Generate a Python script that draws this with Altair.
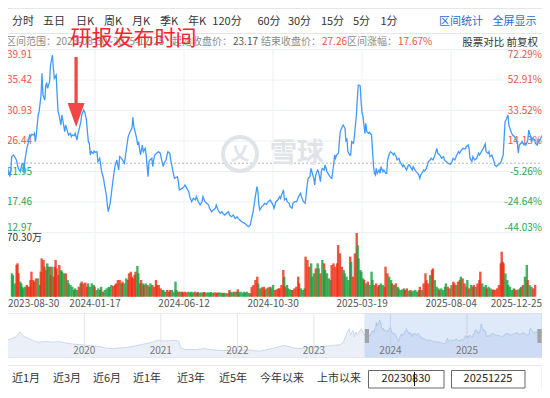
import altair as alt
import numpy as np
import pandas as pd

FONT = "Noto Sans CJK SC"
OFF = 8  # page margin: reference pixel -> chart pixel

# ---------------- data ----------------
START_DATE, END_DATE = "2023-08-30", "2025-12-25"
START_PRICE, END_PRICE, CHANGE = 23.17, 27.26, "17.67%"
N_LAST = 566  # last trading-day index

# (trading-day index, close price)
PRICE = [(0,23.17),(1,22.91),(4,21.19),(5,21.92),(6,24.14),(8,24.38),(11,23.65),(12,23.00),(13,22.41),(15,21.92),(17,23.16),(18,23.16),(19,21.68),(20,23.65),(22,25.36),(23,25.85),(25,27.32),(26,27.08),(27,27.43),(29,27.32),(30,27.57),(31,26.34),(32,27.32),(34,30.27),(35,30.76),(37,33.21),(38,36.40),(39,33.21),(41,32.48),(42,34.68),(43,34.93),(44,34.19),(46,35.17),(47,37.63),(49,39.10),(50,37.14),(51,35.66),(53,36.15),(54,33.21),(55,30.76),(56,30.27),(58,28.79),(59,30.27),(60,29.53),(62,27.81),(63,28.79),(65,27.81),(66,27.32),(68,27.57),(69,27.08),(70,27.32),(72,27.23),(73,27.57),(75,26.59),(76,27.57),(77,28.06),(79,29.28),(80,30.27),(82,31.01),(83,30.76),(85,29.53),(86,27.81),(87,26.34),(88,26.10),(89,24.38),(90,24.87),(92,24.63),(93,24.97),(94,24.77),(96,24.87),(97,23.40),(99,23.89),(100,22.91),(101,21.92),(103,20.94),(104,19.96),(106,18.49),(107,17.02),(108,16.04),
(110,17.27),(113,20.70),(115,22.66),(117,23.64),(119,22.17),(120,24.14),(122,23.89),(125,23.15),(127,25.12),(129,27.08),(131,27.81),(133,28.30),(134,29.92),(135,28.55),
(138,26.83),(139,25.85),(140,26.34),(141,25.36),(142,24.38),(144,25.85),(145,24.87),(147,25.36),(148,24.38),(150,21.19),(151,23.40),(152,23.65),(154,23.89),(155,22.66),(156,23.65),(157,24.38),(159,24.63),(161,24.87),(163,24.63),(164,23.89),(166,22.66),(167,23.16),(169,23.65),(170,24.38),(171,24.87),(173,24.63),(174,23.65),(176,22.17),(177,21.43),(178,20.94),(181,21.19),(182,20.45),(183,19.23),(186,19.47),(188,19.72),(189,19.96),(191,19.47),(193,18.98),(194,18.25),(196,17.51),(198,18.00),(200,17.76),(201,18.25),(203,17.51),(205,17.02),(207,17.51),(208,18.25),(210,17.51),(212,17.27),(214,17.02),(215,16.53),(217,16.04),(219,16.29),(221,16.53),(222,17.02),(224,16.29),(226,15.80),(228,16.04),(229,15.80),(231,15.54),(233,15.80),(235,16.04),(236,15.54),(238,15.30),(240,15.54),(242,15.05),(244,15.30),(245,15.05),(247,14.81),(249,14.56),(252,14.32),(256,13.83),(258,14.07),(259,14.81),(261,16.04),(263,18.00),(265,19.72),(266,18.98),(267,17.02),(268,16.29),(270,16.78),(272,17.02),(273,17.27),(275,17.12),(277,17.51),(279,17.76),(280,17.51),(282,17.02),(283,16.53),
(285,17.51),(287,17.76),(289,18.25),(290,18.00),(291,18.49),(293,19.23),(294,17.76),(296,18.00),(297,17.51),(299,17.27),(300,16.78),(302,16.53),(303,17.27),(305,17.51),(307,17.51),(309,18.25),(311,18.74),(312,18.25),(314,17.51),(316,17.27),(318,19.96),(319,20.94),(321,21.19),(322,22.41),(323,21.92),(325,20.94),(326,19.96),(327,21.43),(329,22.17),(330,21.92),(332,20.45),(333,21.92),(334,22.41),(336,22.17),(337,22.91),(339,21.92),(340,21.68),(342,21.19),(344,20.94),(346,22.91),(347,24.38),(348,23.89),(349,24.38),(351,24.63),(352,26.34),(353,27.81),(355,28.55),(356,28.79),(358,28.30),(359,26.34),(360,26.83),(361,24.87),(363,24.38),(364,24.38),(365,26.34),(367,26.10),(368,27.32),(370,30.27),(371,32.72),(372,34.68),(374,34.59),(375,32.23),(376,30.52),(377,30.03),(378,28.79),(379,27.57),(380,29.04),(381,27.81),(383,27.57),(384,27.72),(386,27.32),(388,22.91),(389,21.68),(390,21.43),(391,22.41),(392,21.68),(394,22.17),(395,21.68),(396,22.66),(398,21.92),(399,22.17),(401,21.68),(402,21.68),(403,23.65),(405,24.63),(406,24.87),(408,24.63),(409,24.38),(410,24.63),(412,24.14),(413,23.65),(415,23.89),(416,23.40),(418,22.91),(419,22.66),(420,22.91),(422,22.41),(423,22.17),(425,22.91),
(426,22.91),(428,22.41),(429,22.17),(430,22.66),(432,22.17),(433,21.92),(435,21.68),(436,21.43),(437,20.94),(438,21.43),(440,21.92),(441,22.17),(442,22.02),(444,22.41),(446,23.40),(448,23.65),(449,23.89),(451,23.65),(453,24.38),(455,25.36),(456,24.63),(458,24.38),(460,23.89),(462,24.14),(463,23.65),(465,23.40),(467,23.16),(469,23.00),(471,23.40),(472,23.89),(474,23.65),(476,24.38),(478,24.87),(479,24.63),(481,25.12),(483,25.36),(485,25.26),(486,25.61),(488,25.85),(489,25.36),(490,23.89),(492,23.40),(493,24.14),(495,23.65),(497,23.89),(499,24.63),(500,24.38),(502,24.87),(504,25.36),(506,26.00),(507,24.87),(509,24.63),(510,24.87),(511,24.14),(513,24.38),(515,23.65),(516,22.91),(518,22.66),(520,23.00),(522,23.16),(523,23.49),(525,24.38),(526,26.83),(527,29.28),(528,29.53),(530,30.27),(531,28.79),(532,28.30),(534,27.57),(535,27.32),(537,27.08),(538,26.83),(540,26.10),(541,24.63),(542,25.85),(544,26.10),(545,26.34),(547,25.85),(548,26.10),(549,25.85),(551,26.59),(552,28.06),(554,27.08),(555,26.34),(556,26.83),(558,26.59),(559,26.10),(561,25.85),(562,26.59),(563,26.34),(566,27.26)]

# (trading-day index, volume in 万)
VOLUME = [(1,25.8),(2,23.9),(4,14.7),(6,35.0),(7,36.8),(8,25.8),(10,16.6),(11,14.7),(12,11.0),(13,9.2),(15,11.0),(17,12.9),(18,11.0),(20,11.0),(21,18.4),(22,27.6),(24,18.4),(25,16.6),(27,20.2),(29,20.2),(31,12.9),(32,27.6),(33,42.3),(35,40.5),(36,33.1),(38,29.4),(39,36.8),(40,33.1),(42,33.1),(43,23.9),(44,33.1),(46,22.1),(47,33.1),(48,40.5),(49,31.3),(51,23.9),(52,35.0),(54,29.4),(55,27.6),(57,25.8),(59,25.8),(61,18.4),(62,14.7),(64,12.9),(66,11.0),(68,7.4),(69,9.2),(71,7.4),(73,11.0),(75,14.7),(76,16.6),(78,14.7),(80,15.5),(82,11.0),(83,14.7),(85,11.0),(87,14.7),(89,12.9),(90,11.0),(92,7.4),(94,9.2),(96,7.4),(97,11.0),(99,5.5),(101,7.4),(103,9.2),(105,10.3),(106,11.0),(108,12.9),(110,11.8),(112,12.9),(113,14.7),(115,18.4),(117,18.4),(119,14.7),(120,16.6),(122,14.7),(124,20.2),(126,18.4),(127,25.8),(129,27.6),(130,22.1),(131,20.2),(133,23.9),(134,27.6),(136,33.9),(137,25.8),(139,14.7),(140,18.4),(142,14.7),(143,12.9),(145,14.7),(147,12.9),(149,11.0),(150,14.7),(152,12.9),(154,11.0),(156,18.4),(157,12.9),(159,12.9),(161,9.2),(163,7.4),(164,7.4),(166,5.5),(168,7.4),(170,5.5),(171,7.4),(173,7.4),(175,5.5),(177,16.6),(178,7.4),(180,5.5),(182,5.5),(184,5.5),(185,4.8),(187,5.5),(189,4.8),(191,5.5),(193,4.4),(194,5.5),(196,4.8),(198,5.5),(200,4.4),(201,5.2),(203,4.4),(205,4.8),(207,4.4),(208,5.2),(210,4.4),(212,4.8),(214,4.4),(215,5.2),(217,4.4),(219,4.8),(221,4.4),(222,4.4),(224,4.8),(226,4.4),(228,4.0),(229,4.4),(231,4.0),(233,3.7),(235,7.4),(236,5.5),(238,4.8),(240,5.5),(242,5.5),(244,8.1),(245,5.2),(247,5.5),(249,4.4),(251,5.5),(252,4.4),(254,5.5),(256,4.0),(258,3.7),(259,11.0),(261,12.9),(263,18.4),(265,22.1),(266,14.7),(268,9.2),(270,10.3),(272,11.0),(273,8.1),(275,9.2),(277,10.3),(279,11.0),(280,9.2),(282,12.9),
(284,7.4),(286,8.1),(288,9.2),(289,9.2),(291,12.9),(293,29.4),(294,22.1),(295,11.0),(297,12.9),(298,9.2),(300,8.1),(302,7.4),(303,7.4),(305,9.2),(307,11.0),(309,22.1),(310,14.7),(312,9.2),(314,7.4),(316,9.2),(317,44.2),(319,40.5),(321,33.1),(323,36.8),(324,22.1),(326,25.8),(328,31.3),(330,36.8),(331,31.3),(333,25.8),(335,40.5),(337,36.8),(338,29.4),(340,25.8),(342,20.2),(344,18.4),(345,35.0),(347,36.8),(349,33.1),(351,36.8),(352,57.0),(354,47.8),(356,33.1),(358,29.4),(359,25.8),(361,22.1),(363,18.4),(365,44.2),(366,38.6),(368,22.1),(370,47.8),(372,70.3),(373,57.0),(374,42.3),(376,29.4),(377,27.6),(379,20.2),(380,18.4),(382,14.7),(384,16.6),(386,12.9),(388,27.6),(389,18.4),(391,12.9),(393,14.7),(395,11.0),(396,12.9),(398,14.7),(400,12.9),(402,11.0),(403,33.1),(405,25.8),(407,22.1),(409,18.4),(410,14.7),(412,12.9),(414,14.7),(416,11.0),(417,9.2),(419,7.4),(421,8.1),(423,9.2),(424,7.4),(426,9.2),(428,6.6),(430,7.4),(431,5.5),(433,6.6),(435,7.4),(437,5.5),(439,7.4),(440,11.0),(442,7.4),(444,14.7),(446,25.8),(447,18.4),(449,14.7),(451,23.9),(453,29.4),(454,31.3),(456,18.4),(458,11.0),(460,9.2),(461,7.4),(463,9.2),(465,7.4),(467,11.0),(468,14.7),(470,11.0),(472,9.2),(474,12.9),(476,16.6),(477,14.7),(479,12.9),(481,16.6),(483,18.4),(484,22.1),(486,20.2),(488,14.7),(490,11.0),(491,18.4),(493,9.2),(495,12.9),(497,11.0),(498,12.9),(500,11.0),(502,14.7),(504,18.4),(505,27.6),(507,14.7),(509,11.0),(511,12.9),(512,9.2),(514,11.0),(516,9.2),(518,7.4),(519,8.1),(521,7.4),(523,9.2),(525,12.9),(527,36.8),(528,49.7),(529,38.6),(530,36.8),(532,25.8),(534,18.4),(535,12.9),(537,11.0),(539,7.4),(541,9.2),(542,8.1),(544,7.4),(546,8.1),(548,9.2),(549,11.0),(551,12.9),(553,22.1),(555,35.0),(556,18.4),(558,12.9),(560,11.0),(562,9.2),(564,12.9)]

DATE_TICK_IDX = [0, 94, 188, 282, 376, 470, 566]
DATE_TICK_LABELS = ["2023-08-30", "2024-01-17", "2024-06-12", "2024-10-30",
                    "2025-03-19", "2025-08-04", "2025-12-25"]
PRICE_TICKS = [39.91, 35.42, 30.93, 26.44, 21.95, 17.46, 12.97]
PCT_LABELS = ["72.29%", "52.91%", "33.52%", "14.13%", "-5.26%", "-24.64%", "-44.03%"]
VOL_MAX = 70.30
VOL_MAX_LABEL = "70.30万"

# long history shown in the navigator (date, price)
NAV_HISTORY = [("2018-12-27",17.9),("2019-01-15",18.9),("2019-02-10",21.3),("2019-02-28",26.4),("2019-03-07",24.7),("2019-03-21",21.3),("2019-04-09",19.6),("2019-04-27",17.9),("2019-05-12",16.2),("2019-05-30",15.6),("2019-07-02",16.2),("2019-08-04",15.6),("2019-09-06",16.2),("2019-10-09",14.5),("2019-11-14",13.5),("2019-12-17",12.9),("2020-01-11",12.2),("2020-02-02",11.8),("2020-03-10",11.2),("2020-04-12",9.5),("2020-05-15",8.8),("2020-06-17",9.5),("2020-07-20",10.1),("2020-08-22",11.2),("2020-09-27",12.9),("2020-10-30",14.5),("2020-12-02",16.2),("2020-12-17",17.9),("2021-01-04",16.9),("2021-02-06",16.9),("2021-03-11",17.6),("2021-03-29",16.2),("2021-04-06",9.5),("2021-05-01",7.8),("2021-06-21",7.8),("2021-07-24",8.8),("2021-08-26",7.8),("2021-10-16",6.8),("2021-12-06",6.8),("2022-01-23",7.4),("2022-02-28",7.4),("2022-04-16",6.1),("2022-05-23",7.8),("2022-07-09",10.1),("2022-08-11",12.2),("2022-09-16",10.1),("2022-10-19",8.8),("2022-11-21",9.5),("2022-12-24",11.2),("2023-01-26",10.1),("2023-02-28",11.2),("2023-04-02",12.2),("2023-05-08",12.9),("2023-05-23",16.2),("2023-06-10",26.4),("2023-06-18",29.8),("2023-06-25",23.0),("2023-07-06",28.1),("2023-07-13",21.3),("2023-07-20",26.4),("2023-07-28",23.0),("2023-08-15",29.8)]
NAV_YEARS = [2020, 2021, 2022, 2023, 2024, 2025]
NAV_START, NAV_END = "2018-12-24", "2025-12-25"

TABS = ["分时", "五日", "日K", "周K", "月K", "季K", "年K", "120分", "60分", "30分", "15分", "5分", "1分"]
TOOLS = ["区间统计", "全屏显示"]
RANGE_BUTTONS = ["近1月", "近3月", "近6月", "近1年", "近3年", "近5年", "今年以来", "上市以来"]
ANNOTATION = "研报发布时间"
ARROW_IDX, ARROW_TOP, ARROW_HEAD = 74, 38.8, 30.26

# ---------------- layout (reference pixels) ----------------
TAB_X = [23, 54, 85, 113, 141, 169, 197, 227, 269, 299.5, 332.5, 361.5, 389]
TOOL_X = [461, 514.5]
BUTTON_X = [26, 67, 107, 147, 191, 233, 282, 339]

RED_TXT, GREEN_TXT = "#ec5546", "#2ea44f"
RED_BAR, GREEN_BAR = "#ee2a12", "#14a03c"
GRID = "#edf0f4"


def d2y(s):
    t = pd.to_datetime(s)
    return t.year + (t.dayofyear - 1) / 365.25


X_MAIN = alt.Scale(domain=[0, N_LAST], range=[6 - OFF, 542 - OFF], nice=False, zero=False)
Y_PRICE = alt.Scale(domain=[PRICE_TICKS[-1], PRICE_TICKS[0]], range=[232.5 - OFF, 49.5 - OFF], nice=False, zero=False)
Y_VOL = alt.Scale(domain=[0, VOL_MAX], range=[296.7 - OFF, 233 - OFF], nice=False)
X_NAV = alt.Scale(domain=[d2y(NAV_START), d2y(NAV_END)], range=[6 - OFF, 542 - OFF], nice=False, zero=False)
Y_NAV = alt.Scale(domain=[0, 40], range=[357 - OFF, 319 - OFF], nice=False)


def ui_text(rows, align="left", baseline="middle", weight="normal"):
    df = pd.DataFrame(rows, columns=["t", "x", "y", "size", "color"])
    df["x"] = df["x"] - OFF
    df["y"] = df["y"] - OFF
    return alt.Chart(df).mark_text(align=align, baseline=baseline, font=FONT, fontWeight=weight).encode(
        x=alt.X("x:Q", scale=None, axis=None),
        y=alt.Y("y:Q", scale=None, axis=None),
        text="t:N",
        size=alt.Size("size:Q", scale=None, legend=None),
        color=alt.Color("color:N", scale=None, legend=None),
    )


def ui_rect(rows, **mark):
    df = pd.DataFrame(rows, columns=["x", "x2", "y", "y2"]) - OFF
    return alt.Chart(df).mark_rect(**mark).encode(
        x=alt.X("x:Q", scale=None, axis=None), x2="x2:Q",
        y=alt.Y("y:Q", scale=None, axis=None), y2="y2:Q")


layers = []

# ---- top tab bar ----
layers.append(ui_rect([(6.5, 543, 8.5, 33.5)], fill="white", stroke="#e6e6e6", strokeWidth=1))
layers.append(ui_text([(t, x, 21.5, 11, "#333333") for t, x in zip(TABS, TAB_X)], align="center"))
layers.append(ui_text([(t, x, 21.5, 11, "#2a6ed6") for t, x in zip(TOOLS, TOOL_X)], align="center"))

# ---- info line ----
layers.append(ui_text([(f"区间范围：{START_DATE}~{END_DATE}", 6, 42, 10, "#8c8c8c"),
                       (f"{START_PRICE:.2f}", 233, 42, 10, "#555555"),
                       (f"{END_PRICE:.2f}", 322, 42, 10, RED_TXT),
                       (CHANGE, 398, 42, 10, RED_TXT)]))
layers.append(ui_text([("起始收盘价：", 232, 42, 10, "#8c8c8c"),
                       ("结束收盘价：", 321, 42, 10, "#8c8c8c"),
                       ("区间涨幅：", 397, 42, 10, "#8c8c8c"),
                       ("股票对比  前复权", 538, 43, 10.5, "#333333")], align="right"))

price_df = pd.DataFrame(PRICE, columns=["idx", "price"])

# ---- grids ----
grid_df = pd.DataFrame({"price": PRICE_TICKS, "x0": 0, "x1": N_LAST})
layers.append(alt.Chart(grid_df).mark_rule(color=GRID, strokeWidth=1).encode(
    x=alt.X("x0:Q", scale=X_MAIN, axis=None), x2="x1:Q",
    y=alt.Y("price:Q", scale=Y_PRICE, axis=None)))
tick_df = pd.DataFrame({"idx": DATE_TICK_IDX, "label": DATE_TICK_LABELS})
layers.append(alt.Chart(tick_df.iloc[1:-1]).mark_rule(color=GRID, strokeWidth=1).encode(
    x=alt.X("idx:Q", scale=X_MAIN, axis=None), y=alt.value(49.5 - OFF), y2=alt.value(297 - OFF)))
base_df = pd.DataFrame({"price": [START_PRICE], "x0": [0], "x1": [N_LAST]})
layers.append(alt.Chart(base_df).mark_rule(color="#b4b4b4", strokeDash=[2, 2], strokeWidth=1).encode(
    x=alt.X("x0:Q", scale=X_MAIN, axis=None), x2="x1:Q",
    y=alt.Y("price:Q", scale=Y_PRICE, axis=None)))

# ---- watermark ----
layers.append(alt.Chart(pd.DataFrame({"a": [0]})).mark_point(
    shape="circle", size=1150, filled=False, strokeWidth=4, color="#e0e4e9", opacity=1).encode(
    x=alt.value(240 - OFF), y=alt.value(154 - OFF)))
layers.append(ui_text([("乂", 240, 154, 19, "#e0e4e9")], align="center", weight="bold"))
layers.append(ui_text([("雪球", 297, 154, 27, "#e0e4e9")], align="center", weight="bold"))

# ---- price axis labels (inside plot) ----
ax_df = pd.DataFrame({"price": PRICE_TICKS,
                      "label": [f"{p:.2f}" for p in PRICE_TICKS],
                      "pct": PCT_LABELS})
ax_df["color"] = np.where(ax_df["price"] >= START_PRICE, RED_TXT, GREEN_TXT)
ax_df["pos"] = ["top"] + ["mid"] * (len(ax_df) - 2) + ["bot"]
for field, xpos, align in [("label", 7 - OFF, "left"), ("pct", 542 - OFF, "right")]:
    for pos, bl in [("top", "top"), ("mid", "middle"), ("bot", "bottom")]:
        layers.append(alt.Chart(ax_df[ax_df["pos"] == pos]).mark_text(
            align=align, baseline=bl, font=FONT, fontSize=10).encode(
            x=alt.value(xpos), y=alt.Y("price:Q", scale=Y_PRICE, axis=None),
            text=f"{field}:N", color=alt.Color("color:N", scale=None, legend=None)))

# ---- price line ----
layers.append(alt.Chart(price_df).mark_line(color="#3f9bff", strokeWidth=1.3).encode(
    x=alt.X("idx:Q", scale=X_MAIN, axis=None),
    y=alt.Y("price:Q", scale=Y_PRICE, axis=None)))

# ---- volume (colour = price up / down versus the previous session) ----
vol_df = pd.DataFrame(VOLUME, columns=["idx", "vol"])
p_now = np.interp(vol_df["idx"], price_df["idx"], price_df["price"])
p_prev = np.interp(vol_df["idx"] - 1, price_df["idx"], price_df["price"])
vol_df["color"] = np.where(p_now >= p_prev, RED_BAR, GREEN_BAR)
layers.append(alt.Chart(vol_df).mark_bar(size=2.4, opacity=0.8).encode(
    x=alt.X("idx:Q", scale=X_MAIN, axis=None),
    y=alt.Y("vol:Q", scale=Y_VOL, axis=None),
    color=alt.Color("color:N", scale=None, legend=None)))
layers.append(ui_text([(VOL_MAX_LABEL, 7, 238, 10, "#333333")]))

# ---- date labels ----
for sub, align, dx in [(tick_df.iloc[:1], "left", 2), (tick_df.iloc[1:-1], "center", 0),
                       (tick_df.iloc[-1:], "right", 0)]:
    layers.append(alt.Chart(sub).mark_text(align=align, baseline="middle", font=FONT, fontSize=10,
                                           color="#555555", xOffset=dx).encode(
        x=alt.X("idx:Q", scale=X_MAIN, axis=None), y=alt.value(304 - OFF), text="label:N"))

# ---- navigator ----
nav_hist = pd.DataFrame(NAV_HISTORY, columns=["date", "price"])
nav_hist["yr"] = nav_hist["date"].map(d2y)
y0, y1 = d2y(START_DATE), d2y(END_DATE)
nav_main = price_df.assign(yr=y0 + price_df["idx"] / N_LAST * (y1 - y0))
nav_df = pd.concat([nav_hist[["yr", "price"]], nav_main[["yr", "price"]]], ignore_index=True)
layers.append(ui_rect([(6.5, 542, 313.5, 357.5)], fill="white", stroke="#e8e8e8", strokeWidth=1))
yr_df = pd.DataFrame({"yr": NAV_YEARS, "label": [str(y) for y in NAV_YEARS]})
layers.append(alt.Chart(yr_df).mark_rule(color="#e4e4e4", strokeWidth=1).encode(
    x=alt.X("yr:Q", scale=X_NAV, axis=None), y=alt.value(313.5 - OFF), y2=alt.value(357.5 - OFF)))
layers.append(alt.Chart(nav_df).mark_area(
    fill="#e3eaf5", line=alt.OverlayMarkDef(color="#c2cfe6", strokeWidth=0.8)).encode(
    x=alt.X("yr:Q", scale=X_NAV, axis=None), y=alt.Y("price:Q", scale=Y_NAV, axis=None)))
sel_df = pd.DataFrame({"a": [y0], "b": [y1]})
layers.append(alt.Chart(sel_df).mark_rect(fill="#3d7be0", fillOpacity=0.17).encode(
    x=alt.X("a:Q", scale=X_NAV, axis=None), x2="b:Q",
    y=alt.value(313.5 - OFF), y2=alt.value(357.5 - OFF)))
HANDLE = "M-0.3,-1L0.3,-1L0.3,1L-0.3,1Z"
for field, dx in [("a", 2.5), ("b", -2.5)]:
    layers.append(alt.Chart(sel_df).mark_point(shape=HANDLE, size=196, filled=True, color="#a3a3a3",
                                               opacity=1, xOffset=dx).encode(
        x=alt.X(f"{field}:Q", scale=X_NAV, axis=None), y=alt.value(336 - OFF)))
layers.append(alt.Chart(yr_df).mark_text(align="center", baseline="middle", font=FONT, fontSize=10,
                                         color="#777777").encode(
    x=alt.X("yr:Q", scale=X_NAV, axis=None), y=alt.value(351 - OFF), text="label:N"))

# ---- bottom range bar ----
layers.append(ui_rect([(6.5, 542, 365.5, 393)], fill="white", stroke="#e8e8e8", strokeWidth=1))
layers.append(ui_text([(t, x, 378.5, 11, "#333333") for t, x in zip(RANGE_BUTTONS, BUTTON_X)], align="center"))
layers.append(ui_rect([(368.5, 444, 370.5, 388), (451.5, 525, 370.5, 388)], fill="white", stroke="#666666", strokeWidth=1))
layers.append(ui_text([(START_DATE.replace("-", ""), 406, 379, 11, "#222222"),
                       (END_DATE.replace("-", ""), 488, 379, 11, "#222222")], align="center"))
layers.append(ui_rect([(414, 415, 372, 386)], fill="#111111"))

# ---- annotation: red text + arrow ----
layers.append(ui_text([(ANNOTATION, 133.5, 38.5, 21, "#f2262f")], align="center"))
arrow_df = pd.DataFrame({"idx": [ARROW_IDX], "top": [ARROW_TOP], "head": [ARROW_HEAD + 1.5], "mid": [ARROW_HEAD]})
layers.append(alt.Chart(arrow_df).mark_rule(color="#f04848", strokeWidth=3.3).encode(
    x=alt.X("idx:Q", scale=X_MAIN, axis=None),
    y=alt.Y("top:Q", scale=Y_PRICE, axis=None), y2="head:Q"))
layers.append(alt.Chart(arrow_df).mark_point(shape="M-0.85,-1.2L0.85,-1.2L0,1.2Z", size=400, filled=True,
                                             color="#f04848", opacity=1).encode(
    x=alt.X("idx:Q", scale=X_MAIN, axis=None),
    y=alt.Y("mid:Q", scale=Y_PRICE, axis=None)))

chart = alt.layer(*layers).resolve_scale(x="independent", y="independent").properties(
    width=534, height=382, padding=0, background="white",
    autosize=alt.AutoSizeParams(type="none"),
).configure_view(stroke=None)

chart.save("out.html", embed_options={"renderer": "svg", "actions": False})
